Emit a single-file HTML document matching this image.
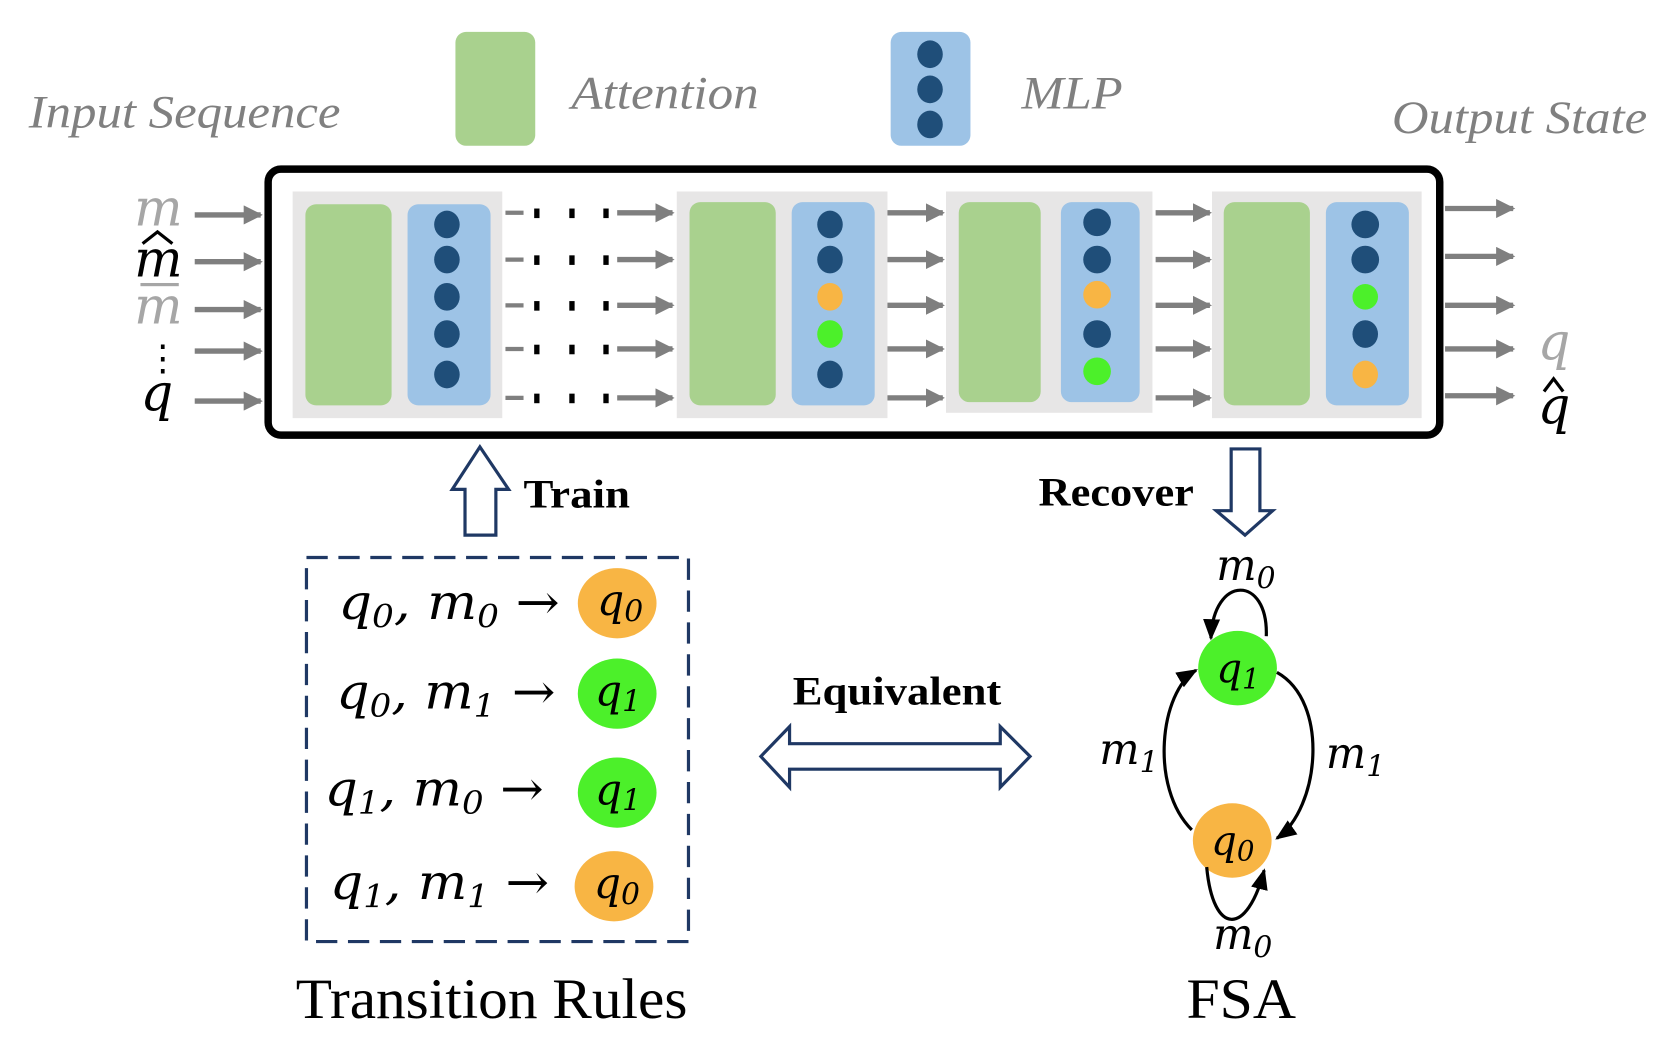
<!DOCTYPE html>
<html><head><meta charset="utf-8"><style>
html,body{margin:0;padding:0;background:#fff;}
svg{display:block;}
</style></head><body>
<svg width="1660" height="1049" viewBox="0 0 1560 986" preserveAspectRatio="none" xmlns="http://www.w3.org/2000/svg">
<defs>
<marker id="ga" markerWidth="18" markerHeight="18" refX="16" refY="9" orient="auto" markerUnits="userSpaceOnUse" viewBox="0 0 18 18"><path d="M0,0 L18,9 L0,18 z" fill="#7f7f7f"/></marker>
<marker id="ba" markerWidth="20" markerHeight="20" refX="18" refY="10" orient="auto" markerUnits="userSpaceOnUse" viewBox="0 0 20 20"><path d="M0,2 L20,10 L0,18 z" fill="#000"/></marker>
</defs>
<g font-family="Liberation Serif, serif" font-style="italic" fill="#808080">
<text x="27" y="120" font-size="44" textLength="293" lengthAdjust="spacingAndGlyphs">Input Sequence</text>
<text x="537" y="102" font-size="44" textLength="176" lengthAdjust="spacingAndGlyphs">Attention</text>
<text x="960" y="102" font-size="44" textLength="95" lengthAdjust="spacingAndGlyphs">MLP</text>
<text x="1308" y="125" font-size="44" textLength="240" lengthAdjust="spacingAndGlyphs">Output State</text>
</g>
<rect x="428" y="30" width="75" height="107" rx="10" fill="#a9d18e"/>
<rect x="837" y="30" width="75" height="107" rx="10" fill="#9dc3e6"/>
<g fill="#1f4e79"><ellipse cx="874" cy="51" rx="12" ry="13"/><ellipse cx="874" cy="84" rx="12" ry="13"/><ellipse cx="874" cy="117" rx="12" ry="13"/></g>

<rect x="252" y="159" width="1101" height="250" rx="12" fill="#fff" stroke="#000" stroke-width="7"/>
<g fill="#e7e6e6">
<rect x="275" y="180" width="197" height="213"/><rect x="636" y="180" width="198" height="213"/>
<rect x="889" y="180" width="194" height="208"/><rect x="1139" y="180" width="197" height="213"/>
</g>
<g fill="#a9d18e">
<rect x="287" y="192" width="81" height="189" rx="10"/><rect x="648" y="190" width="81" height="191" rx="10"/>
<rect x="901" y="190" width="77" height="188" rx="10"/><rect x="1150" y="190" width="81" height="191" rx="10"/>
</g>
<g fill="#9dc3e6">
<rect x="383" y="192" width="78" height="189" rx="10"/><rect x="744" y="190" width="78" height="191" rx="10"/>
<rect x="997" y="190" width="74" height="188" rx="10"/><rect x="1246" y="190" width="78" height="191" rx="10"/>
</g>
<g>
<g fill="#1f4e79"><ellipse cx="420" cy="211" rx="12" ry="13"/><ellipse cx="420" cy="244" rx="12" ry="13"/><ellipse cx="420" cy="279" rx="12" ry="13"/><ellipse cx="420" cy="314" rx="12" ry="13"/><ellipse cx="420" cy="352" rx="12" ry="13"/></g>
<ellipse cx="780" cy="211" rx="12" ry="13" fill="#1f4e79"/><ellipse cx="780" cy="244" rx="12" ry="13" fill="#1f4e79"/><ellipse cx="780" cy="279" rx="12" ry="13" fill="#f8b544"/><ellipse cx="780" cy="314" rx="12" ry="13" fill="#4cf02a"/><ellipse cx="780" cy="352" rx="12" ry="13" fill="#1f4e79"/>
<ellipse cx="1031" cy="209" rx="13" ry="13" fill="#1f4e79"/><ellipse cx="1031" cy="244" rx="13" ry="13" fill="#1f4e79"/><ellipse cx="1031" cy="277" rx="13" ry="13" fill="#f8b544"/><ellipse cx="1031" cy="314" rx="13" ry="13" fill="#1f4e79"/><ellipse cx="1031" cy="349" rx="13" ry="13" fill="#4cf02a"/>
<ellipse cx="1283" cy="211" rx="13" ry="13" fill="#1f4e79"/><ellipse cx="1283" cy="244" rx="13" ry="13" fill="#1f4e79"/><ellipse cx="1283" cy="279" rx="12" ry="12" fill="#4cf02a"/><ellipse cx="1283" cy="314" rx="12" ry="13" fill="#1f4e79"/><ellipse cx="1283" cy="352" rx="12" ry="13" fill="#f8b544"/>
</g>
<g stroke="#7f7f7f" stroke-width="5" marker-end="url(#ga)">
<line x1="183" y1="202" x2="245" y2="202"/><line x1="183" y1="246" x2="245" y2="246"/><line x1="183" y1="291" x2="245" y2="291"/><line x1="183" y1="330" x2="245" y2="330"/><line x1="183" y1="377" x2="245" y2="377"/>
<line x1="580" y1="200" x2="632" y2="200"/><line x1="580" y1="244" x2="632" y2="244"/><line x1="580" y1="287" x2="632" y2="287"/><line x1="580" y1="328" x2="632" y2="328"/><line x1="580" y1="374" x2="632" y2="374"/>
<line x1="834" y1="200" x2="886" y2="200"/><line x1="834" y1="244" x2="886" y2="244"/><line x1="834" y1="287" x2="886" y2="287"/><line x1="834" y1="328" x2="886" y2="328"/><line x1="834" y1="374" x2="886" y2="374"/>
<line x1="1086" y1="200" x2="1137" y2="200"/><line x1="1086" y1="244" x2="1137" y2="244"/><line x1="1086" y1="287" x2="1137" y2="287"/><line x1="1086" y1="328" x2="1137" y2="328"/><line x1="1086" y1="374" x2="1137" y2="374"/>
<line x1="1358" y1="196" x2="1422" y2="196"/><line x1="1358" y1="241" x2="1422" y2="241"/><line x1="1358" y1="287" x2="1422" y2="287"/><line x1="1358" y1="328" x2="1422" y2="328"/><line x1="1358" y1="372" x2="1422" y2="372"/>
</g>
<g stroke="#7f7f7f" stroke-width="4"><line x1="475" y1="200" x2="492" y2="200"/><line x1="475" y1="244" x2="492" y2="244"/><line x1="475" y1="287" x2="492" y2="287"/><line x1="475" y1="328" x2="492" y2="328"/><line x1="475" y1="374" x2="492" y2="374"/></g>
<g fill="#000">
<rect x="502" y="196" width="5" height="9"/><rect x="535" y="196" width="5" height="9"/><rect x="567" y="196" width="5" height="9"/>
<rect x="502" y="240" width="5" height="9"/><rect x="535" y="240" width="5" height="9"/><rect x="567" y="240" width="5" height="9"/>
<rect x="502" y="283" width="5" height="9"/><rect x="535" y="283" width="5" height="9"/><rect x="567" y="283" width="5" height="9"/>
<rect x="502" y="324" width="5" height="9"/><rect x="535" y="324" width="5" height="9"/><rect x="567" y="324" width="5" height="9"/>
<rect x="502" y="370" width="5" height="9"/><rect x="535" y="370" width="5" height="9"/><rect x="567" y="370" width="5" height="9"/>
</g>
<g font-family="DejaVu Serif, serif" font-style="italic" font-size="48">
<text x="126" y="212" fill="#a6a6a6">m</text>
<text x="126" y="260" fill="#000">m</text>
<path d="M134,229 L148,218 L162,229" fill="none" stroke="#000" stroke-width="3"/>
<text x="126" y="304" fill="#a6a6a6">m</text><rect x="132" y="266" width="36" height="3" fill="#a6a6a6"/>
<text x="136" y="348" fill="#000" font-size="34" font-style="normal">⋮</text>
<text x="132" y="386" fill="#000">q</text>
<text x="1445" y="338" fill="#a6a6a6">q</text>
<text x="1445" y="398" fill="#000">q</text>
<path d="M1451,368 L1460,356 L1469,368" fill="none" stroke="#000" stroke-width="3"/>
</g>
<path d="M437,503 L437,460 L425,460 L451,420 L478,460 L466,460 L466,503 Z" fill="#fff" stroke="#1f3864" stroke-width="3"/>
<path d="M1157,422 L1184,422 L1184,480 L1196,480 L1170,503 L1143,480 L1157,480 Z" fill="#fff" stroke="#1f3864" stroke-width="3"/>
<g font-family="Liberation Serif, serif" font-weight="bold" font-size="38" fill="#000">
<text x="492" y="477" textLength="100" lengthAdjust="spacingAndGlyphs">Train</text>
<text x="976" y="475" textLength="146" lengthAdjust="spacingAndGlyphs">Recover</text>
<text x="745" y="662" textLength="196" lengthAdjust="spacingAndGlyphs">Equivalent</text>
</g>
<path d="M715,711 L742,683 L742,699 L940,699 L940,683 L968,711 L940,740 L940,723 L742,723 L742,740 Z" fill="#fff" stroke="#1f3864" stroke-width="3"/>
<rect x="288" y="524" width="359" height="361" fill="none" stroke="#1f3864" stroke-width="3" stroke-dasharray="20 10"/>
<ellipse cx="580" cy="567" rx="37" ry="33" fill="#f8b544"/>
<ellipse cx="580" cy="652" rx="37" ry="33" fill="#4cf02a"/>
<ellipse cx="580" cy="745" rx="37" ry="33" fill="#4cf02a"/>
<ellipse cx="577" cy="833" rx="37" ry="33" fill="#f8b544"/>
<g font-family="DejaVu Serif, serif" font-style="italic" font-size="46" fill="#000">
<text x="318" y="582" textLength="208" lengthAdjust="spacingAndGlyphs">q<tspan font-size="30" dy="8">0</tspan><tspan dy="-8">, m</tspan><tspan font-size="30" dy="8">0</tspan><tspan dy="-8" font-style="normal"> →</tspan></text>
<text x="316" y="666" textLength="206" lengthAdjust="spacingAndGlyphs">q<tspan font-size="30" dy="8">0</tspan><tspan dy="-8">, m</tspan><tspan font-size="30" dy="8">1</tspan><tspan dy="-8" font-style="normal"> →</tspan></text>
<text x="305" y="757" textLength="206" lengthAdjust="spacingAndGlyphs">q<tspan font-size="30" dy="8">1</tspan><tspan dy="-8">, m</tspan><tspan font-size="30" dy="8">0</tspan><tspan dy="-8" font-style="normal"> →</tspan></text>
<text x="310" y="845" textLength="206" lengthAdjust="spacingAndGlyphs">q<tspan font-size="30" dy="8">1</tspan><tspan dy="-8">, m</tspan><tspan font-size="30" dy="8">1</tspan><tspan dy="-8" font-style="normal"> →</tspan></text>
<text x="561" y="578" font-size="40">q<tspan font-size="28" dy="6">0</tspan></text>
<text x="559" y="663" font-size="40">q<tspan font-size="28" dy="6">1</tspan></text>
<text x="559" y="756" font-size="40">q<tspan font-size="28" dy="6">1</tspan></text>
<text x="558" y="844" font-size="40">q<tspan font-size="28" dy="6">0</tspan></text>
</g>
<ellipse cx="1163" cy="628" rx="37" ry="35" fill="#4cf02a"/>
<ellipse cx="1158" cy="790" rx="37" ry="35" fill="#f8b544"/>
<g fill="none" stroke="#000" stroke-width="3">
<path d="M1190,598 C1192,540 1140,540 1138,600" marker-end="url(#ba)"/>
<path d="M1200,632 C1250,660 1240,760 1200,788" marker-end="url(#ba)"/>
<path d="M1120,780 C1080,740 1090,650 1124,630" marker-end="url(#ba)"/>
<path d="M1134,815 C1140,880 1172,880 1188,818" marker-end="url(#ba)"/>
</g>
<g font-family="DejaVu Serif, serif" font-style="italic" font-size="40" fill="#000">
<text x="1143" y="545">m<tspan font-size="28" dy="8">0</tspan></text>
<text x="1033" y="718">m<tspan font-size="28" dy="8">1</tspan></text>
<text x="1246" y="722">m<tspan font-size="28" dy="8">1</tspan></text>
<text x="1140" y="892">m<tspan font-size="28" dy="8">0</tspan></text>
<text x="1143" y="641" font-size="38">q<tspan font-size="26" dy="6">1</tspan></text>
<text x="1138" y="803" font-size="38">q<tspan font-size="26" dy="6">0</tspan></text>
</g>
<g font-family="Liberation Serif, serif" font-size="54" fill="#000">
<text x="278" y="957" textLength="368" lengthAdjust="spacingAndGlyphs">Transition Rules</text>
<text x="1115" y="957" textLength="103" lengthAdjust="spacingAndGlyphs">FSA</text>
</g>
</svg>
</body></html>
